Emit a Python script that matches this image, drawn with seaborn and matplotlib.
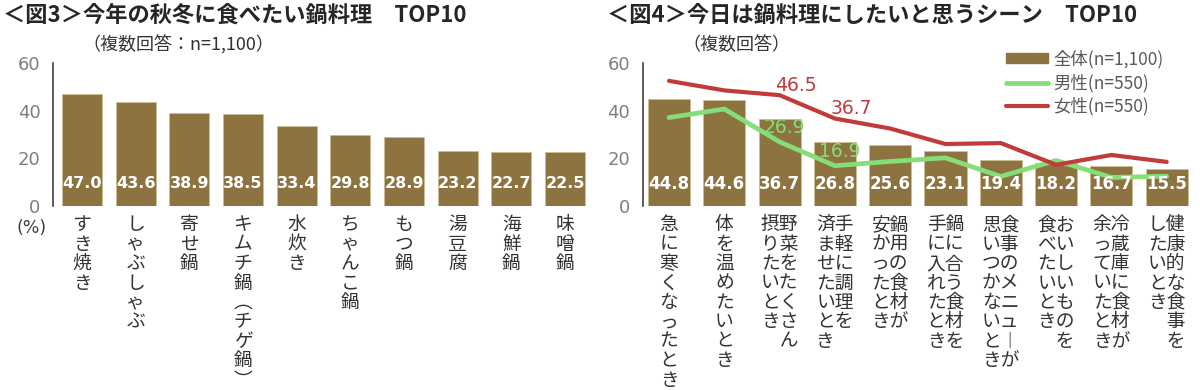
import matplotlib
matplotlib.use("Agg")
import matplotlib.pyplot as plt
import seaborn as sns
import pandas as pd
import numpy as np
from matplotlib.lines import Line2D
from matplotlib.patches import Patch

# 図3 データ
nabe_names = ["すき焼き", "しゃぶしゃぶ", "寄せ鍋", "キムチ鍋（チゲ鍋）", "水炊き",
              "ちゃんこ鍋", "もつ鍋", "湯豆腐", "海鮮鍋", "味噌鍋"]
nabe_values = [47.0, 43.6, 38.9, 38.5, 33.4, 29.8, 28.9, 23.2, 22.7, 22.5]

# 図4 データ (縦書きの列ごと、右の列から)
scene_names = [
    ["急に寒くなったとき"],
    ["体を温めたいとき"],
    ["野菜をたくさん", "摂りたいとき"],
    ["手軽に調理を", "済ませたいとき"],
    ["鍋用の食材が", "安かったとき"],
    ["鍋に合う食材を", "手に入れたとき"],
    ["食事のメニューが", "思いつかないとき"],
    ["おいしいものを", "食べたいとき"],
    ["冷蔵庫に食材が", "余っていたとき"],
    ["健康的な食事を", "したいとき"],
]
scene_total = [44.8, 44.6, 36.7, 26.8, 25.6, 23.1, 19.4, 18.2, 16.7, 15.5]
scene_male = [37.1, 40.7, 26.9, 16.9, 18.7, 20.2, 12.4, 19.1, 12.0, 12.5]
scene_female = [52.5, 48.5, 46.5, 36.7, 32.5, 26.0, 26.4, 17.3, 21.4, 18.5]
labeled_points = [2, 3]

BAR = "#8C7340"
GREEN = "#86DE78"
RED = "#C13B3B"
GRAY = "#7F7F7F"

VERT = {"ー": "︱", "（": "︵", "）": "︶"}


def vertical(cols):
    # 縦書き: 1行に各列の1文字ずつ (左の列が先)
    cols = ["".join(VERT.get(c, c) for c in col) for col in cols]
    n = max(len(c) for c in cols)
    lines = []
    for i in range(n):
        lines.append("".join(c[i] if i < len(c) else "　" for c in reversed(cols)))
    return "\n".join(lines)


def style_axis(ax, xmin):
    ax.set_ylim(0, 60)
    ax.set_yticks([0, 20, 40, 60])
    ax.set_xlim(xmin, 9.5)
    for s in ["top", "right", "bottom"]:
        ax.spines[s].set_visible(False)
    ax.spines["left"].set_color("#404040")
    ax.spines["left"].set_linewidth(1.2)
    ax.tick_params(axis="y", direction="out", length=5, width=1.2, color="#404040",
                   labelsize=13, labelcolor=GRAY, pad=4)
    for t in ax.get_yticklabels():
        t.set_family("DejaVu Sans")
    ax.tick_params(axis="x", length=0, pad=6, labelsize=13.5, labelcolor="#333333")
    ax.set_xlabel("")
    ax.set_ylabel("")


sns.set_theme(style="white")
plt.rcParams["font.family"] = ["Noto Sans CJK JP", "DejaVu Sans"]

fig = plt.figure(figsize=(12, 3.9), dpi=100)
ax1 = fig.add_axes([0.0442, 0.4718, 0.449, 0.3667])
ax2 = fig.add_axes([0.5356, 0.4718, 0.4597, 0.3667])

# 図3
df1 = pd.DataFrame({"name": nabe_names, "value": nabe_values})
sns.barplot(data=df1, x="name", y="value", color=BAR, width=0.745, saturation=1,
            edgecolor="#CDBF94", linewidth=0.6, ax=ax1)
for i, v in enumerate(nabe_values):
    ax1.text(i, 9.3, f"{v:.1f}", ha="center", va="center", color="white",
             fontsize=11.5, fontweight="bold", family="DejaVu Sans")
style_axis(ax1, -0.54)
ax1.set_xticks(range(len(nabe_names)))
ax1.set_xticklabels([vertical([n]) for n in nabe_names], va="top", linespacing=0.9)

# 図4
df2 = pd.DataFrame({"pos": range(len(scene_total)), "total": scene_total,
                    "male": scene_male, "female": scene_female})
sns.barplot(data=df2, x="pos", y="total", color=BAR, width=0.76, saturation=1,
            edgecolor="#CDBF94", linewidth=0.6, ax=ax2)
sns.lineplot(x=np.arange(len(scene_male)), y=scene_male, color=GREEN, linewidth=3.4,
             sort=False, ax=ax2)
sns.lineplot(x=np.arange(len(scene_female)), y=scene_female, color=RED, linewidth=3.0,
             sort=False, ax=ax2)
for i, v in enumerate(scene_total):
    ax2.text(i, 9.3, f"{v:.1f}", ha="center", va="center", color="white",
             fontsize=12, fontweight="bold", family="DejaVu Sans")
for i in labeled_points:
    ax2.annotate(f"{scene_female[i]:.1f}", xy=(i, scene_female[i]), xytext=(11.5, 7),
                 textcoords="offset points", ha="center", va="center", color=RED,
                 fontsize=13.5, family="DejaVu Sans")
    ax2.annotate(f"{scene_male[i]:.1f}", xy=(i, scene_male[i]), xytext=(3.5, 10),
                 textcoords="offset points", ha="center", va="center", color=GREEN,
                 fontsize=13.5, family="DejaVu Sans")
style_axis(ax2, -0.475)
ax2.set_xticks(range(len(scene_names)))
ax2.set_xticklabels([vertical(n) for n in scene_names], va="top", linespacing=0.9)

handles = [Patch(facecolor=BAR, edgecolor=BAR),
           Line2D([], [], color=GREEN, linewidth=3.4),
           Line2D([], [], color=RED, linewidth=3.0)]
fig.legend(handles, ["全体(n=1,100)", "男性(n=550)", "女性(n=550)"],
           loc="upper left", bbox_to_anchor=(1006 / 1200, 1 - 50 / 390), frameon=False,
           fontsize=12.5, labelcolor="#595959", handlelength=2.4, handleheight=0.5,
           handletextpad=0.3, labelspacing=0.3, borderpad=0, borderaxespad=0)

# タイトル
fig.text(3 / 1200, 1 - 15 / 390, "＜図3＞今年の秋冬に食べたい鍋料理　TOP10",
         fontsize=16, fontweight="bold", va="center", ha="left")
fig.text(82 / 1200, 1 - 45 / 390, "（複数回答：n=1,100）", fontsize=13,
         va="center", ha="left", color="#333333")
fig.text(607 / 1200, 1 - 15 / 390, "＜図4＞今日は鍋料理にしたいと思うシーン　TOP10",
         fontsize=16, fontweight="bold", va="center", ha="left")
fig.text(682 / 1200, 1 - 45 / 390, "（複数回答）", fontsize=13,
         va="center", ha="left", color="#333333")
fig.text(32 / 1200, 1 - 228 / 390, "(%)", fontsize=12.5, va="center", ha="center",
         color="#404040", family="DejaVu Sans")

fig.savefig("out.png", dpi=100)
